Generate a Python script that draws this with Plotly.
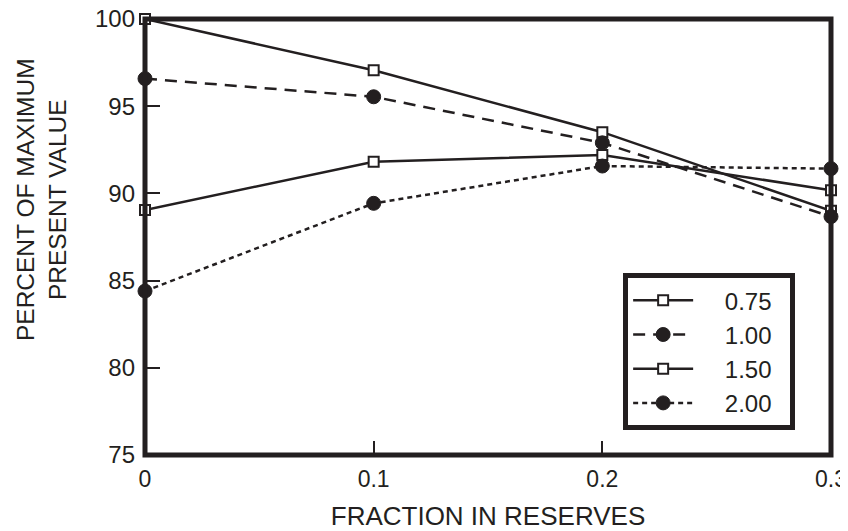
import plotly.graph_objects as go

fraction = [0, 0.1, 0.2, 0.3]
s075 = [100.0, 97.06, 93.51, 89.0]
s100 = [96.58, 95.54, 92.9, 88.67]
s150 = [89.05, 91.82, 92.2, 90.18]
s200 = [84.4, 89.43, 91.57, 91.42]
names = ["0.75", "1.00", "1.50", "2.00"]

INK = "#231f20"
FONT = "Liberation Sans, Arial, Helvetica, sans-serif"
LEAD = "\u00a0\u00a0\u00a0\u00a0"
TRAIL = "\u00a0\u00a0"

fig = go.Figure()

def sq_marker():
    return dict(symbol="square", size=10, color="white", line=dict(color=INK, width=2))

def dot_marker():
    return dict(symbol="circle", size=14, color=INK, line=dict(color=INK, width=1))

series = [
    (s075, names[0], "solid", sq_marker()),
    (s100, names[1], "12px,8px", dot_marker()),
    (s150, names[2], "solid", sq_marker()),
    (s200, names[3], "5px,4px", dot_marker()),
]
for ys, nm, dash, mk in series:
    fig.add_trace(go.Scatter(
        x=fraction, y=ys, name=LEAD + nm + TRAIL, mode="lines+markers",
        line=dict(color=INK, width=2.5, dash=dash),
        marker=mk, cliponaxis=False,
    ))

# page body has an 8px margin; figure is sized/offset to compensate
fig.update_layout(
    width=840, height=523,
    margin=dict(l=137, r=17, t=11, b=76, autoexpand=False),
    paper_bgcolor="white", plot_bgcolor="white",
    font=dict(family=FONT, size=22, color=INK),
    showlegend=True,
    legend=dict(
        x=0.697, y=0.417, xanchor="left", yanchor="top",
        bgcolor="white", bordercolor=INK, borderwidth=5,
        font=dict(size=24, family=FONT, color=INK),
        itemwidth=60,
    ),
    shapes=[dict(type="rect", xref="paper", yref="paper", x0=0, x1=1, y0=0, y1=1,
                 line=dict(color=INK, width=5), layer="above")],
    annotations=[dict(
        text="PERCENT OF MAXIMUM<br>PRESENT VALUE", textangle=-90,
        xref="paper", yref="paper", x=-0.150, y=0.585,
        xanchor="center", yanchor="middle", showarrow=False,
        font=dict(size=24.5, family=FONT, color=INK),
    )],
)

fig.update_xaxes(
    range=[0, 0.3], tickvals=[0, 0.1, 0.2, 0.3], ticktext=["0", "0.1", "0.2", "0.3"],
    ticks="inside", ticklen=14, tickwidth=1.5, tickcolor=INK,
    showgrid=False, zeroline=False, showline=False, automargin=False,
    ticklabelstandoff=8, ticklabeloverflow="allow",
    title=dict(text="FRACTION IN RESERVES", font=dict(size=26, family=FONT, color=INK), standoff=23),
    tickfont=dict(size=23, family=FONT, color=INK),
)
fig.update_yaxes(
    range=[75, 100], tickvals=[75, 80, 85, 90, 95, 100],
    ticks="inside", ticklen=15, tickwidth=1.5, tickcolor=INK,
    showgrid=False, zeroline=False, showline=False, automargin=False,
    ticklabelstandoff=9, ticklabeloverflow="allow",
    tickfont=dict(size=24, family=FONT, color=INK),
)

fig.write_html("out.html")
